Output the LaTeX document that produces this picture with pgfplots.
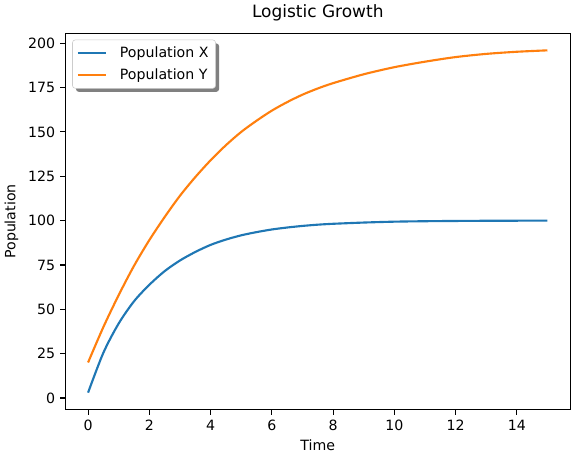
\documentclass[border=0pt]{standalone}
\usepackage{fontspec}
\setmainfont{DejaVu Sans}
\usepackage{pgfplots}
\pgfplotsset{compat=1.18}
\usetikzlibrary{shadows}

\definecolor{mplblue}{HTML}{1F77B4}
\definecolor{mplorange}{HTML}{FF7F0E}

% the legend's shadow must not repeat on the line samples inside it
\makeatletter
\tikzset{no preactions/.code={\let\tikz@preactions\pgfutil@empty}}
\makeatother

\begin{document}
\begin{tikzpicture}
\begin{axis}[
    scale only axis,
    width=357pt, height=266pt,
    title={Logistic Growth},
    title style={font=\fontsize{12}{14}\selectfont, yshift=-1pt},
    xlabel={Time}, ylabel={Population},
    label style={font=\fontsize{10}{12}\selectfont},
    tick label style={font=\fontsize{10}{12}\selectfont},
    /pgf/number format/assume math mode=true,
    xmin=-0.75, xmax=15.75,
    ymin=-6.65, ymax=205.65,
    xtick={0,2,...,14},
    ytick={0,25,...,200},
    tick align=outside,
    tick pos=left,
    major tick length=3.5pt,
    tick style={black, line width=0.8pt},
    axis line style={line width=0.8pt},
    legend cell align=left,
    legend style={
        at={(0.014,0.983)}, anchor=north west,
        font=\fontsize{10}{12}\selectfont,
        draw=black!20, rounded corners=2pt, fill=white,
        drop shadow={shadow xshift=2.5pt, shadow yshift=-2.5pt, fill=black!50, opacity=1},
        inner xsep=3pt, inner ysep=3pt,
        row sep=2pt,
    },
    legend image code/.code={
        \draw[no preactions, sharp corners, #1] (0cm,0cm) -- (0.7cm,0cm);
        \path (0.95cm,0cm);},
]
\addplot[mplblue, line width=1.5pt, smooth] coordinates {
    (0,3) (0.5,25.5) (1,42) (1.5,54.5) (2,63.8) (2.5,71.5) (3,77.5) (3.5,82.3)
    (4,86.3) (4.5,89.3) (5,91.7) (5.5,93.5) (6,95) (6.5,96.1) (7,97) (7.5,97.7)
    (8,98.2) (9,98.9) (10,99.4) (11,99.65) (12,99.8) (13,99.9) (14,99.95) (15,100)
};
\addlegendentry{Population X}
\addplot[mplorange, line width=1.5pt, smooth] coordinates {
    (0,20) (0.5,40) (1,58) (1.5,74.5) (2,89) (2.5,102) (3,114) (3.5,124.5)
    (4,134) (4.5,142.5) (5,150) (5.5,156.3) (6,162) (6.5,166.8) (7,171) (7.5,174.5)
    (8,177.5) (9,182.5) (10,186.5) (11,189.6) (12,192.2) (13,194) (14,195.2) (15,196)
};
\addlegendentry{Population Y}
\end{axis}
\end{tikzpicture}
\end{document}
